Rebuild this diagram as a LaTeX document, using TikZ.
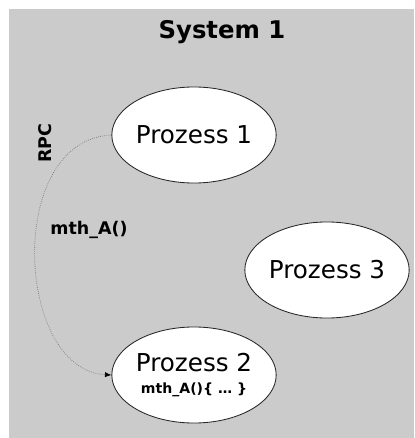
\documentclass[tikz,border=0pt]{standalone}
\usepackage{fontspec}
\setmainfont{DejaVu Sans}
\usepackage{tikz}
\usetikzlibrary{arrows.meta, shapes.geometric}
\definecolor{sysgray}{HTML}{CBCBCB}

\begin{document}
\begin{tikzpicture}[
  x=0.025cm, y=-0.025cm,
  proc/.style={
    ellipse,
    draw=black!85,
    line width=0.6pt,
    fill=white,
    minimum width=3.95cm,
    minimum height=2.4cm,
    inner sep=0pt,
    align=center,
    font=\fontsize{17.5}{19}\selectfont
  },
  tag/.style={font=\bfseries\fontsize{12.4}{14}\selectfont},
  call/.style={-{Latex[length=1.6mm, width=1.3mm, color=black]}, densely dotted, draw=black!55, line width=0.5pt}
]
  \useasboundingbox (0,0) rectangle (414,438);
  \fill[sysgray] (9,9) rectangle (414,438);

  \node[font=\bfseries\fontsize{17.3}{19}\selectfont] (title) at (222,32) {System 1};

  \node[proc] (p1) at (194,135) {Prozess 1};
  \node[proc] (p3) at (327,270) {Prozess 3};
  \node[proc] (p2) at (194,375) {Prozess 2\\[-3pt]{\bfseries\fontsize{10}{12}\selectfont mth\_A()\{ … \}}};

  \node[tag, rotate=90] (rpc) at (45,143) {RPC};
  \node[tag] (mth) at (89,230) {mth\_A()};

  \draw[call] (p1.west) .. controls (5,140) and (15,370) .. (p2.west);
\end{tikzpicture}
\end{document}
